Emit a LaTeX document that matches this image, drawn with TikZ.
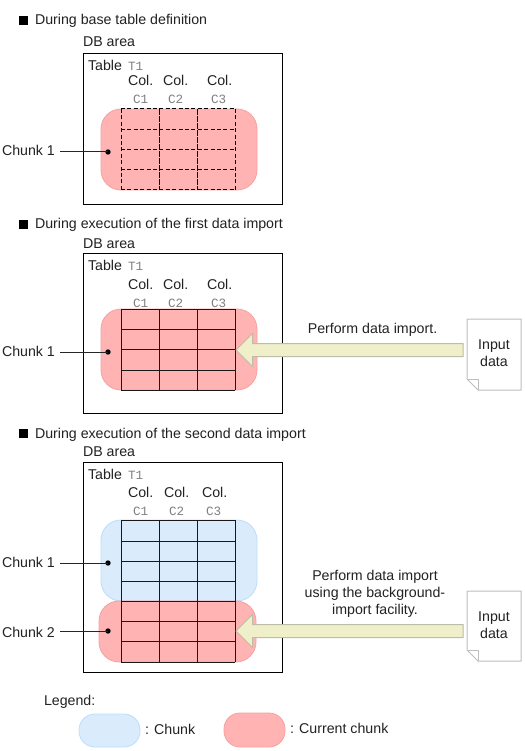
\documentclass[tikz,border=0pt]{standalone}
\usepackage{fontspec}
\setmainfont{Liberation Sans}
\newfontfamily\cellmono{Liberation Mono}
\usetikzlibrary{fit,calc}
\definecolor{pinkfill}{HTML}{FFB3B3}
\definecolor{pinkline}{HTML}{F8A0A0}
\definecolor{bluefill}{HTML}{DAEBFC}
\definecolor{blueline}{HTML}{BBDDFB}
\definecolor{arrowfill}{HTML}{EFEFC9}
\definecolor{arrowline}{HTML}{BDBDA9}
\definecolor{docline}{HTML}{BEBEBE}
\definecolor{monogrey}{HTML}{808080}
\definecolor{inktext}{HTML}{222222}
\tikzset{
  lbl/.style={anchor=base west,inner sep=0pt,outer sep=0pt,font=\fontsize{14.2}{17}\selectfont,text=inktext},
  ctr/.style={align=center,inner sep=0pt,outer sep=0pt,font=\fontsize{14.2}{17.3}\selectfont,text=inktext},
  mono/.style={anchor=base west,inner sep=0pt,outer sep=0pt,font=\cellmono\fontsize{12.6}{14}\selectfont,text=monogrey},
  dbbox/.style={draw=black,line width=1pt,inner sep=0pt,outer sep=0pt},
  pinkchunk/.style={draw=pinkline,fill=pinkfill,line width=.8pt,rounded corners=20pt,inner sep=0pt,outer sep=0pt},
  bluechunk/.style={draw=blueline,fill=bluefill,line width=.8pt,rounded corners=20pt,inner sep=0pt,outer sep=0pt},
  gridline/.style={draw=black!90,line width=1pt},
  dashline/.style={draw=black,line width=1pt,dash pattern=on 4pt off 2.4pt},
  bullet/.style={fill=black,inner sep=0pt,outer sep=0pt,minimum size=9pt},
  leader/.style={draw=black!85,line width=1pt},
  dot/.style={circle,fill=black,inner sep=0pt,minimum size=5.4pt},
  fatarrow/.style={draw=arrowline,fill=arrowfill,line width=1pt,line join=miter},
  docpage/.style={draw=docline,fill=white,line width=1pt,line join=round},
}
% heading, DB area label
\newcommand\headblock[5]{%
  \node[bullet] (#1sq) at (23.5,#3) {};
  \node[lbl] (#1head) at (35,#4) {#2};
  \node[lbl] (#1db) at (83,#5) {DB area};
}
% table title and column titles: prefix, table base, col base, cell base, colb x, colc x, cellb x, cellc x
\newcommand\tableheads[8]{%
  \node[lbl] (#1table) at (88,#2) {Table};
  \node[mono] (#1tname) at (128,#2) {T1};
  \node[lbl] (#1cola) at (128,#3) {Col.};
  \node[lbl] (#1colb) at (#5,#3) {Col.};
  \node[lbl] (#1colc) at (#6,#3) {Col.};
  \node[mono] (#1ca) at (133,#4) {C1};
  \node[mono] (#1cb) at (#7,#4) {C2};
  \node[mono] (#1cc) at (#8,#4) {C3};
}
\newcommand\leaderline[4]{%
  \node[lbl] (#1) at (2,#3) {#2};
  \node[dot] (#1dot) at (108,#4) {};
  \coordinate (#1start) at (60,#4);
  \draw[leader] (#1start) -- (#1dot.center);
}
\newcommand\bigarrow[2]{%
  \coordinate (#1tip) at (236,#2);
  \coordinate (#1tail) at (463,#2);
  \draw[fatarrow] (#1tip) -- ++(16.5,-16.5) -- ++(0,10) -- ($(#1tail)+(0,-6.5)$) -- ($(#1tail)+(0,6.5)$) -- ($(#1tip)+(16.5,6.5)$) -- ++(0,10) -- cycle;
}
\newcommand\docshape[3]{%
  \coordinate (#1a) at (467,#2);
  \coordinate (#1b) at (521,#3);
  \draw[docpage] (#1a) -- (#1a-|#1b) -- (#1b) -- ($(#1a|-#1b)+(11,0)$) -- ($(#1a|-#1b)+(0,-11)$) -- cycle;
  \draw[docpage,fill=none] ($(#1a|-#1b)+(0,-11)$) -- ($(#1a|-#1b)+(11,-11)$) -- ($(#1a|-#1b)+(11,0)$);
  \node[ctr] (#1txt) at ($(#1a)!.5!(#1b)+(0,-1)$) {Input\\data};
}
\begin{document}
\begin{tikzpicture}[x=1pt,y=-1pt]
\useasboundingbox (0,0) rectangle (524,751);
\fill[white] (0,0) rectangle (524,751);

% ---------- panel 1
\headblock{p}{During base table definition}{20.5}{25}{47}
\node[dbbox,fit={(83,54)(282,205)}] (pbox) {};
\tableheads{p}{71}{86}{104}{163}{207}{168}{211}
\node[pinkchunk,fit={(101,109)(257,190)}] (pchunk) {};
\foreach \yy in {109,129.5,149.5,170,190} \draw[dashline] (121,\yy) -- (235,\yy);
\foreach \xx in {121,235} \draw[dashline] (\xx,109) -- (\xx,190);
\foreach \xx in {159,197} \draw[dashline,dash pattern=on 6pt off 1pt] (\xx,109) -- (\xx,190);
\leaderline{pchunkA}{Chunk 1}{156}{152}

% ---------- panel 2
\headblock{q}{During execution of the first data import}{224.5}{229}{248}
\node[dbbox,fit={(83,253)(282,413)}] (qbox) {};
\tableheads{q}{270}{289}{307}{163}{207}{168}{211}
\node[pinkchunk,fit={(101,309)(257,390)}] (qchunk) {};
\foreach \yy in {309,329.5,349.5,370,390} \draw[gridline] (121,\yy) -- (235,\yy);
\foreach \xx in {121,159,197,235} \draw[gridline] (\xx,309) -- (\xx,390);
\leaderline{qchunkA}{Chunk 1}{356}{352}
\bigarrow{qarr}{350}
\node[lbl,anchor=base] (qperf) at (372.5,333) {Perform data import.};
\docshape{qdoc}{319}{390}

% ---------- panel 3
\headblock{r}{During execution of the second data import}{433.5}{438}{456}
\node[dbbox,fit={(83,462)(282,672)}] (rbox) {};
\tableheads{r}{479}{497}{515}{164}{202}{169}{206}
\node[bluechunk,fit={(101,520)(257,601)}] (rchunka) {};
\node[pinkchunk,fit={(99,601)(256,662)}] (rchunkb) {};
\foreach \yy in {520,541,561,581,601,621.5,641.5,662} \draw[gridline] (121,\yy) -- (235,\yy);
\foreach \xx in {121,159,197,235} \draw[gridline] (\xx,520) -- (\xx,662);
\leaderline{rchunkA}{Chunk 1}{567}{563}
\leaderline{rchunkB}{Chunk 2}{637}{631}
\bigarrow{rarr}{631}
\node[ctr] (rperf) at (375,594) {Perform data import\\using the background-\\import facility.};
\docshape{rdoc}{591}{661}

% ---------- legend
\node[lbl] (legend) at (44,705) {Legend:};
\node[bluechunk,rounded corners=16pt,fit={(79,714)(140,747)}] (legblue) {};
\node[lbl] (legbluet) at (145,734) {: Chunk};
\node[pinkchunk,rounded corners=16pt,fit={(224,713)(285,747)}] (legpink) {};
\node[lbl] (legpinkt) at (290,733) {: Current chunk};
\end{tikzpicture}
\end{document}
